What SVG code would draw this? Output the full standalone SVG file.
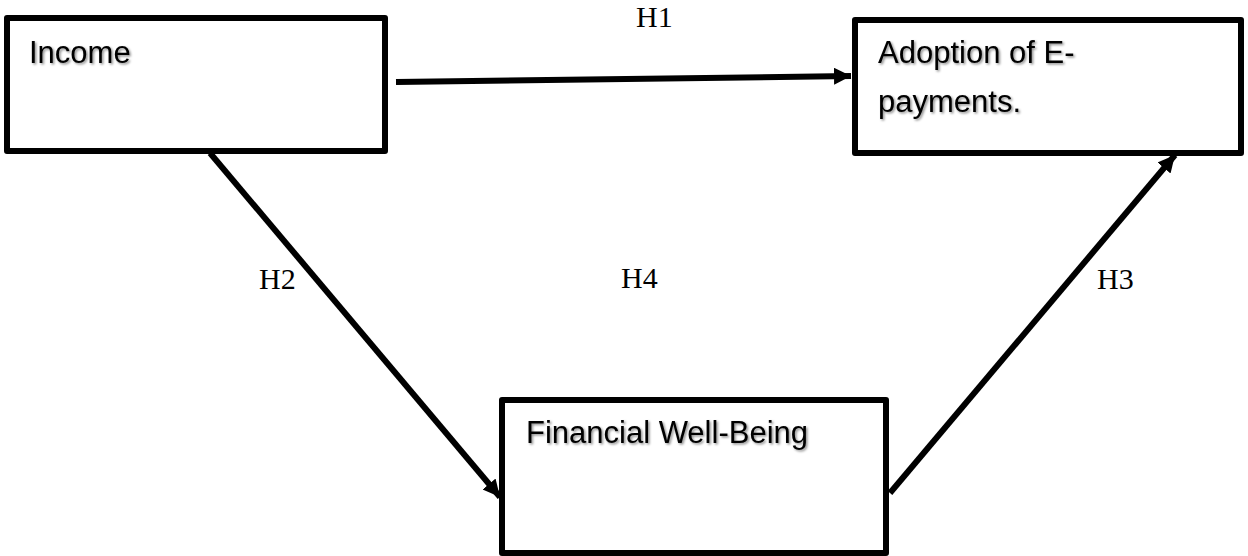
<svg xmlns="http://www.w3.org/2000/svg" width="1248" height="556" viewBox="0 0 1248 556">
  <style>
    .box { fill: #ffffff; stroke: #000000; stroke-width: 6; stroke-linejoin: round; }
    .ntext { font-family: "Liberation Sans", Arial, sans-serif; font-size: 31px; fill: #000000; filter: url(#shadow); }
    .lbl { font-family: "Liberation Serif", "Times New Roman", serif; font-size: 30px; fill: #000000; }
    .conn { stroke: #000000; stroke-width: 6; fill: none; marker-end: url(#arrow); }
  </style>
  <defs>
    <marker id="arrow" markerUnits="userSpaceOnUse" markerWidth="18" markerHeight="18" refX="17" refY="8.5" orient="auto">
      <path d="M0,0 L17,8.5 L0,17 Z" fill="#000000"/>
    </marker>
    <filter id="shadow" x="-10%" y="-30%" width="120%" height="160%">
      <feDropShadow dx="1.5" dy="1.5" stdDeviation="1" flood-color="#000000" flood-opacity="0.45"/>
    </filter>
  </defs>
  <rect width="1248" height="556" fill="#ffffff"/>

  <g id="connectors">
    <line class="conn" x1="396" y1="82" x2="851" y2="76"/>
    <line class="conn" x1="210" y1="153" x2="500" y2="497"/>
    <line class="conn" x1="890" y1="493" x2="1175" y2="155"/>
  </g>

  <g id="node-income">
    <rect class="box" x="7" y="18" width="378" height="133"/>
    <text class="ntext" x="29" y="63">Income</text>
  </g>

  <g id="node-adoption">
    <rect class="box" x="855" y="20" width="386" height="133"/>
    <text class="ntext" x="878" y="63">Adoption of E-</text>
    <text class="ntext" x="878" y="112">payments.</text>
  </g>

  <g id="node-financial">
    <rect class="box" x="502" y="400" width="384" height="153"/>
    <text class="ntext" x="526" y="443">Financial Well-Being</text>
  </g>

  <g id="labels">
    <text class="lbl" x="636" y="27">H1</text>
    <text class="lbl" x="259" y="289">H2</text>
    <text class="lbl" x="1097" y="289">H3</text>
    <text class="lbl" x="621" y="288">H4</text>
  </g>
</svg>
